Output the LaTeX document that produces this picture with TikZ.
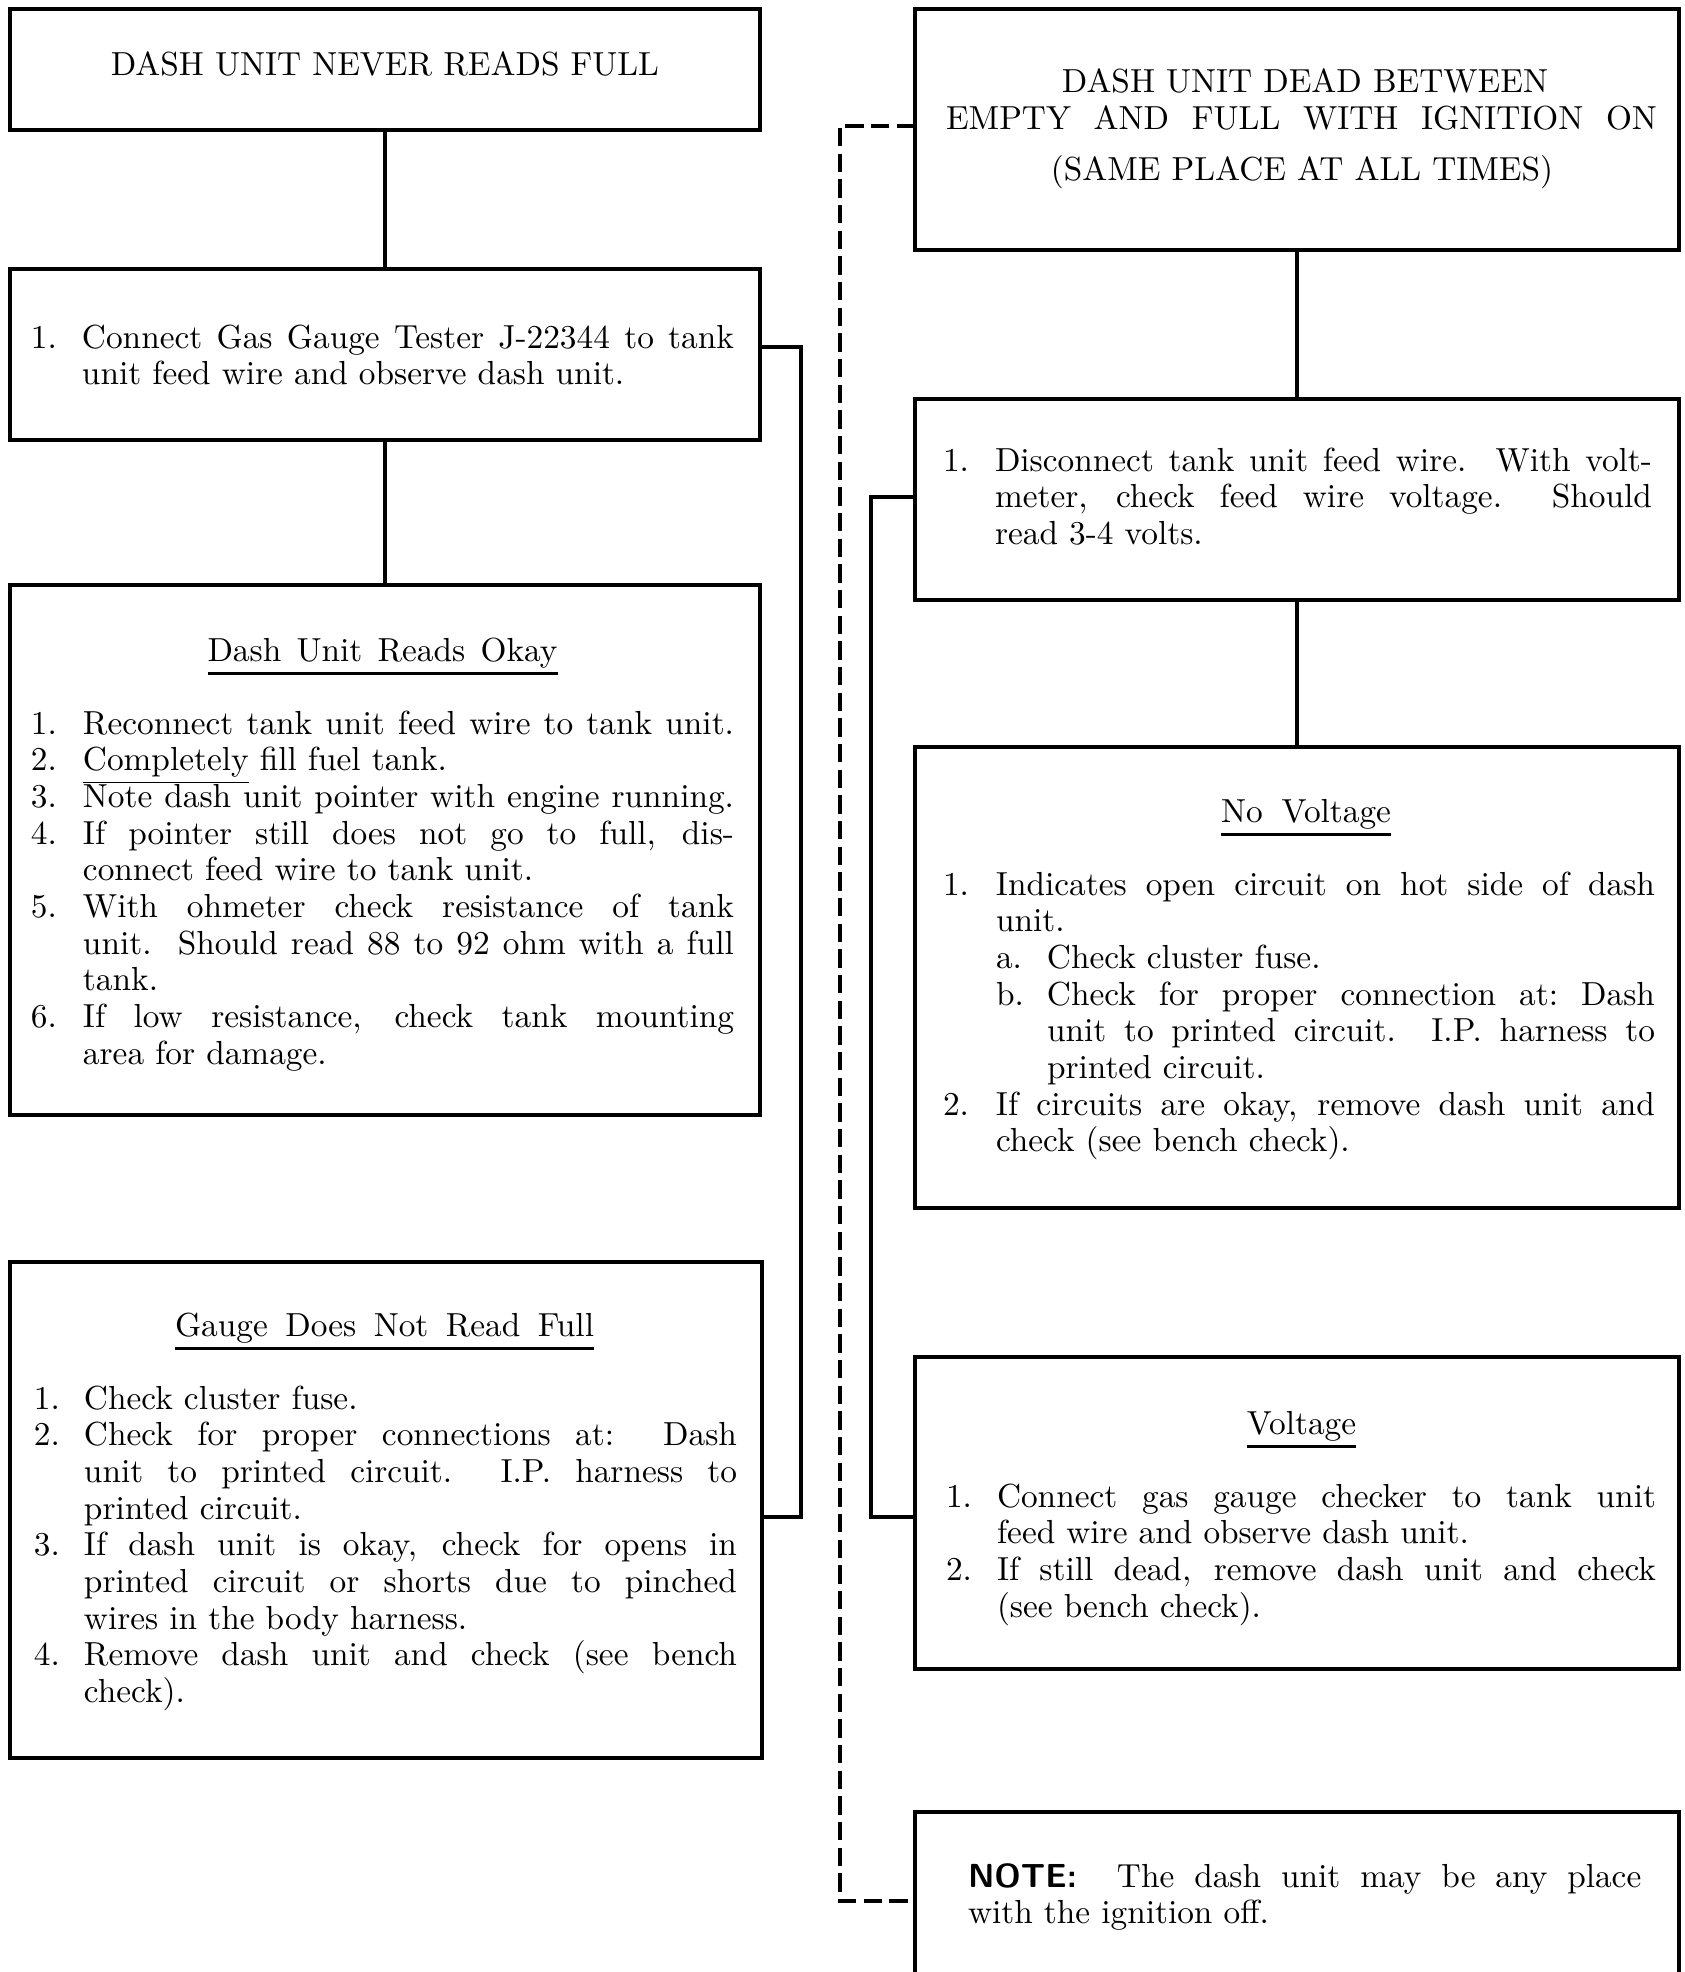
\documentclass[tikz,border=0pt]{standalone}
\newlength\numwd \newlength\txtwd \newlength\subnw \newlength\subtw
\newcommand\Lf[2]{\hbox{\makebox[\numwd][l]{#1}\makebox[\txtwd][s]{#2}}}
\newcommand\Lfn[2]{\hbox{\makebox[\numwd][l]{#1}#2}}
\newcommand\Lc[1]{\hbox{\hspace*{\numwd}\makebox[\txtwd][s]{#1}}}
\newcommand\Le[1]{\hbox{\hspace*{\numwd}#1}}
\newcommand\Sf[2]{\hbox{\hspace*{\numwd}\makebox[\subnw][l]{#1}\makebox[\subtw][s]{#2}}}
\newcommand\Sfn[2]{\hbox{\hspace*{\numwd}\makebox[\subnw][l]{#1}#2}}
\newcommand\Sc[1]{\hbox{\hspace*{\numwd}\hspace*{\subnw}\makebox[\subtw][s]{#1}}}
\newcommand\Se[1]{\hbox{\hspace*{\numwd}\hspace*{\subnw}#1}}
\newcommand\lst[1]{\vtop{\baselineskip=11pt\lineskiplimit=-30pt\lineskip=0pt #1}}
\begin{document}
\begin{tikzpicture}[x=0.3pt,y=-0.3pt,
 box/.style={draw,line width=1.2pt,inner sep=0pt,outer sep=0pt,rectangle},
 conn/.style={line width=1.1pt},
 dconn/.style={line width=1.1pt,dash pattern=on 5.5pt off 2.2pt},
 txt/.style={anchor=base west,inner sep=0pt,outer sep=0pt},
 ttl/.style={anchor=base,inner sep=0pt,outer sep=0pt},
 uline/.style={line width=0.8pt}]
\useasboundingbox (0,0) rectangle (1685,1972);
% boxes
\node[box,minimum width=225pt,minimum height=36.3pt] (A) at (385,69.5) {};
\node[box,minimum width=225pt,minimum height=51.3pt] (B) at (385,354.5) {};
\node[box,minimum width=225pt,minimum height=159pt] (C) at (385,850) {};
\node[box,minimum width=225.6pt,minimum height=148.8pt] (E) at (386,1510) {};
\node[box,minimum width=229.2pt,minimum height=72.3pt] (F) at (1297,129.5) {};
\node[box,minimum width=229.2pt,minimum height=60.3pt] (G) at (1297,499.5) {};
\node[box,minimum width=229.2pt,minimum height=138.3pt] (H) at (1297,977.5) {};
\node[box,minimum width=229.2pt,minimum height=93.6pt] (I) at (1297,1513) {};
\node[box,minimum width=229.2pt,minimum height=53.4pt] (J) at (1297,1901) {};
% connectors
\draw[conn] (A.south) -- (B.north);
\draw[conn] (B.south) -- (C.north);
\draw[conn] (F.south) -- (G.north);
\draw[conn] (G.south) -- (H.north);
\coordinate (bj) at (801,347);
\coordinate (bk) at (801,1517);
\draw[conn] (B.east |- bj) -- (bj) -- (bk) -- (E.east |- bk);
\coordinate (gj) at (871,497);
\coordinate (gk) at (871,1517);
\draw[conn] (G.west |- gj) -- (gj) -- (gk) -- (I.west |- gk);
\coordinate (fj) at (840,126);
\coordinate (fk) at (840,1901);
\draw[dconn] (F.west |- fj) -- (fj) -- (fk) -- (J.west |- fk);
% A
\node[ttl] (At) at (385,75) {DASH UNIT NEVER READS FULL};
% B
\node[txt] (Bt) at (31,348) {\setlength\numwd{15.3pt}\setlength\txtwd{195.6pt}\lst{%
\Lf{1.}{Connect Gas Gauge Tester J-22344 to tank}
\Le{unit feed wire and observe dash unit.}}};
% C
\node[ttl] (Ct) at (382.5,661) {\makebox[105pt][s]{Dash Unit Reads Okay}};
\draw[uline] ([yshift=-3.8pt]Ct.base west) -- ([yshift=-3.8pt]Ct.base east);
\node[txt] (Cl) at (31,734) {\setlength\numwd{15.6pt}\setlength\txtwd{195.3pt}\lst{%
\Lf{1.}{Reconnect tank unit feed wire to tank unit.}
\Lfn{2.}{\underline{Completely} fill fuel tank.}
\Lf{3.}{Note dash unit pointer with engine running.}
\Lf{4.}{If pointer still does not go to full, dis-}
\Le{connect feed wire to tank unit.}
\Lf{5.}{With ohmeter check resistance of tank}
\Lc{unit.\ \ Should read 88 to 92 ohm with a full}
\Le{tank.}
\Lf{6.}{If low resistance, check tank mounting}
\Le{area for damage.}}};
% E
\node[ttl] (Et) at (384.5,1336) {\makebox[125.7pt][s]{Gauge Does Not Read Full}};
\draw[uline] ([yshift=-3.8pt]Et.base west) -- ([yshift=-3.8pt]Et.base east);
\node[txt] (El) at (34,1409) {\setlength\numwd{15pt}\setlength\txtwd{195.9pt}\lst{%
\Lfn{1.}{Check cluster fuse.}
\Lf{2.}{Check for proper connections at:\ \ Dash}
\Lc{unit to printed circuit.\ \ I.P. harness to}
\Le{printed circuit.}
\Lf{3.}{If dash unit is okay, check for opens in}
\Lc{printed circuit or shorts due to pinched}
\Le{wires in the body harness.}
\Lf{4.}{Remove dash unit and check (see bench}
\Le{check).}}};
% F
\node[ttl] (Ft1) at (1305,92) {DASH UNIT DEAD BETWEEN};
\node[ttl] (Ft2) at (1301.5,129) {\makebox[213.3pt][s]{EMPTY AND FULL WITH IGNITION ON}};
\node[ttl] (Ft3) at (1302,180) {(SAME PLACE AT ALL TIMES)};
% G
\node[txt] (Gt) at (943,471) {\setlength\numwd{15.6pt}\setlength\txtwd{197.1pt}\lst{%
\Lf{1.}{Disconnect tank unit feed wire.\ \ With volt-}
\Lc{meter, check feed wire voltage.\ \ Should}
\Le{read 3-4 volts.}}};
% H
\node[ttl] (Ht) at (1306,822) {\makebox[51pt][s]{No Voltage}};
\draw[uline] ([yshift=-3.8pt]Ht.base west) -- ([yshift=-3.8pt]Ht.base east);
\node[txt] (Hl) at (943,895) {\setlength\numwd{15.9pt}\setlength\txtwd{197.7pt}%
\setlength\subnw{15.3pt}\setlength\subtw{182.4pt}\lst{%
\Lf{1.}{Indicates open circuit on hot side of dash}
\Le{unit.}
\Sfn{a.}{Check cluster fuse.}
\Sf{b.}{Check for proper connection at:\ Dash}
\Sc{unit to printed circuit.\ \ I.P. harness to}
\Se{printed circuit.}
\Lf{2.}{If circuits are okay, remove dash unit and}
\Le{check (see bench check).}}};
% I
\node[ttl] (It) at (1301.5,1434) {Voltage};
\draw[uline] ([yshift=-3.8pt]It.base west) -- ([yshift=-3.8pt]It.base east);
\node[txt] (Il) at (946,1507) {\setlength\numwd{15.3pt}\setlength\txtwd{197.7pt}\lst{%
\Lf{1.}{Connect gas gauge checker to tank unit}
\Le{feed wire and observe dash unit.}
\Lf{2.}{If still dead, remove dash unit and check}
\Le{(see bench check).}}};
% J
\node[txt] (Jt) at (968,1887) {\lst{%
\hbox{\makebox[202pt][s]{\textsf{\textbf{NOTE:}}\hspace{1.2em}The dash unit may be any place}}
\hbox{with the ignition off.}}};
\end{tikzpicture}
\end{document}
